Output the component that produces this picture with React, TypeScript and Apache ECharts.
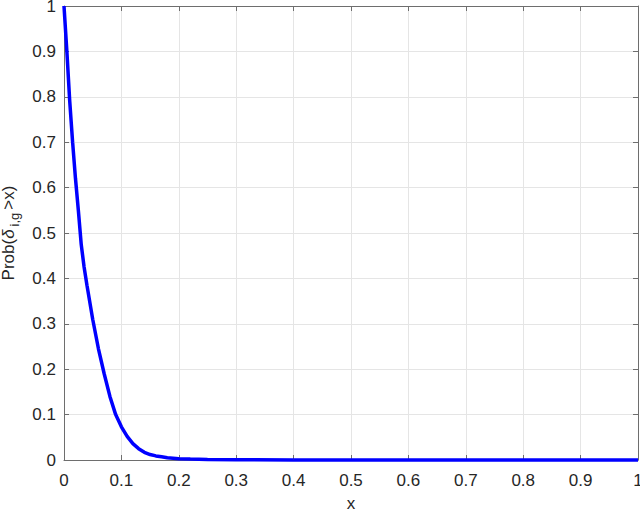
import React, { useEffect, useRef } from "react";
import * as echarts from "echarts";

const xValues = [0, 0.005, 0.01, 0.015, 0.02, 0.025, 0.03, 0.035, 0.04, 0.05, 0.06, 0.07, 0.08, 0.09, 0.1, 0.11, 0.12, 0.13, 0.14, 0.15, 0.16, 0.17, 0.18, 0.19, 0.2, 0.22, 0.25, 0.3, 0.4, 0.5, 0.6, 0.7, 0.8, 0.9, 1.0];
const probValues = [1, 0.9, 0.79, 0.7, 0.62, 0.55, 0.475, 0.425, 0.385, 0.31, 0.245, 0.19, 0.14, 0.1, 0.073, 0.052, 0.036, 0.025, 0.017, 0.012, 0.009, 0.007, 0.005, 0.004, 0.003, 0.002, 0.001, 0.0005, 0.0002, 0, 0, 0, 0, 0, 0];

const FONT = "'Liberation Sans', Arial, Helvetica, sans-serif";
const TXT = "#262626";
const AX = "#6e6e6e";

export default function App() {
  const ref = useRef<HTMLDivElement>(null);
  useEffect(() => {
    if (!ref.current) return;
    const chart = echarts.init(ref.current, null, { renderer: "svg" });
    const data = xValues.map((x, i) => [x, probValues[i]]);
    const common = {
      type: "value",
      min: 0,
      max: 1,
      interval: 0.1,
    };
    chart.setOption({
      animation: false,
      backgroundColor: "#ffffff",
      textStyle: { fontFamily: FONT },
      grid: { left: 64, right: 2, top: 6, bottom: 51, containLabel: false, outerBoundsMode: "none" },
      xAxis: [
        {
          ...common,
          position: "bottom",
          name: "x",
          nameLocation: "middle",
          nameGap: 35,
          nameTextStyle: { color: TXT, fontSize: 17, fontFamily: FONT },
          axisLine: { show: true, lineStyle: { color: AX, width: 1 } },
          axisTick: { show: true, inside: true, length: 5, lineStyle: { color: AX } },
          axisLabel: { color: TXT, fontSize: 17, margin: 12, fontFamily: FONT },
          splitLine: { show: true, lineStyle: { color: "#e5e5e5", width: 1 } },
        },
        {
          ...common,
          position: "top",
          axisLine: { show: true, onZero: false, lineStyle: { color: AX, width: 1 } },
          axisTick: { show: true, inside: true, length: 5, lineStyle: { color: AX } },
          axisLabel: { show: false },
          splitLine: { show: false },
        },
      ],
      yAxis: [
        {
          ...common,
          position: "left",
          name: "{a|Prob(}{d|δ}{s|i,g}{a|>x)}",
          nameLocation: "middle",
          nameGap: 40,
          nameRotate: 90,
          nameTextStyle: {
            color: TXT,
            fontFamily: FONT,
            rich: {
              a: { fontSize: 17, color: TXT, fontFamily: FONT, lineHeight: 26, verticalAlign: "middle" },
              d: { fontSize: 17, color: TXT, fontFamily: FONT, fontStyle: "italic", lineHeight: 26, verticalAlign: "middle" },
              s: { fontSize: 13, color: TXT, fontFamily: FONT, lineHeight: 26, verticalAlign: "bottom", padding: [0, 3, 0, 3] },
            },
          },
          axisLine: { show: true, lineStyle: { color: AX, width: 1 } },
          axisTick: { show: true, inside: true, length: 5, lineStyle: { color: AX } },
          axisLabel: { color: TXT, fontSize: 17, margin: 8, fontFamily: FONT },
          splitLine: { show: true, lineStyle: { color: "#e5e5e5", width: 1 } },
        },
        {
          ...common,
          position: "right",
          axisLine: { show: true, onZero: false, lineStyle: { color: AX, width: 1 } },
          axisTick: { show: true, inside: true, length: 5, lineStyle: { color: AX } },
          axisLabel: { show: false },
          splitLine: { show: false },
        },
      ],
      series: [
        {
          type: "line",
          xAxisIndex: 0,
          yAxisIndex: 0,
          data,
          showSymbol: false,
          smooth: false,
          clip: false,
          lineStyle: { color: "#0000ff", width: 3.5 },
          itemStyle: { color: "#0000ff" },
        },
      ],
    });
    return () => chart.dispose();
  }, []);
  return (
    <div
      ref={ref}
      style={{ position: "fixed", left: 0, top: 0, width: 640, height: 511 }}
    />
  );
}
